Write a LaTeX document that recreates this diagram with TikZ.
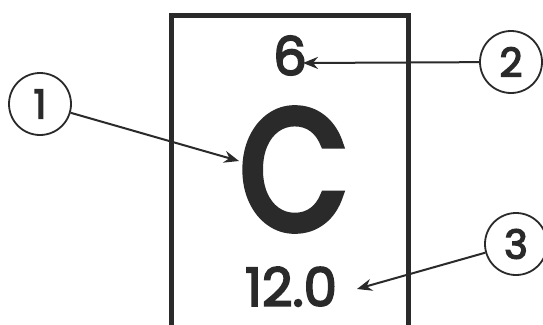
\documentclass[tikz,border=0pt]{standalone}
\usepackage{fontspec}
\setmainfont{Poppins}[FakeBold=3.5]
\newfontfamily\symbfont{Poppins}[FakeBold=4.5,FakeStretch=0.82]
\usepackage{tikz}
\usetikzlibrary{positioning,arrows.meta,calc}
\usepackage{xcolor}
\definecolor{ink}{HTML}{2A2A2A}

\begin{document}
\begin{tikzpicture}[x=1pt,y=-1pt,
  every node/.style={text=ink,inner sep=0pt},
  callout/.style={draw=ink,line width=1.8pt,circle,minimum size=62pt,font=\fontsize{40}{40}\selectfont},
  pointer/.style={draw=ink,line width=2pt,-{Stealth[length=15pt,width=12pt,inset=5pt]}}]
\useasboundingbox (0,0) rectangle (543,324);
\fill[white] (0,0) rectangle (543,324);
% element box
\draw[ink,line width=5pt] (171,350) -- (171,15) -- (408,15) -- (408,350);
\node[anchor=base,font=\fontsize{53}{53}\selectfont] (six) at (290,75) {6};
\node[anchor=base,text depth=0pt,font=\fontsize{170}{170}\symbfont] (symb) at (294,229) {C};
\node[anchor=base,font=\fontsize{53}{53}\selectfont] (mass) at (291,306) {12.0};
% callouts
\node[callout] (n1) at (40,104) {1};
\node[callout] (n2) at (511,62) {2};
\node[callout] (n3) at (516,244) {3};
\coordinate (t1) at (239,161);
\coordinate (t2) at (303,63);
\coordinate (t3) at (357,289);
\draw[pointer] (n1) -- (t1);
\draw[pointer] (n2) -- (t2);
\draw[pointer] (n3) -- (t3);
\end{tikzpicture}
\end{document}
